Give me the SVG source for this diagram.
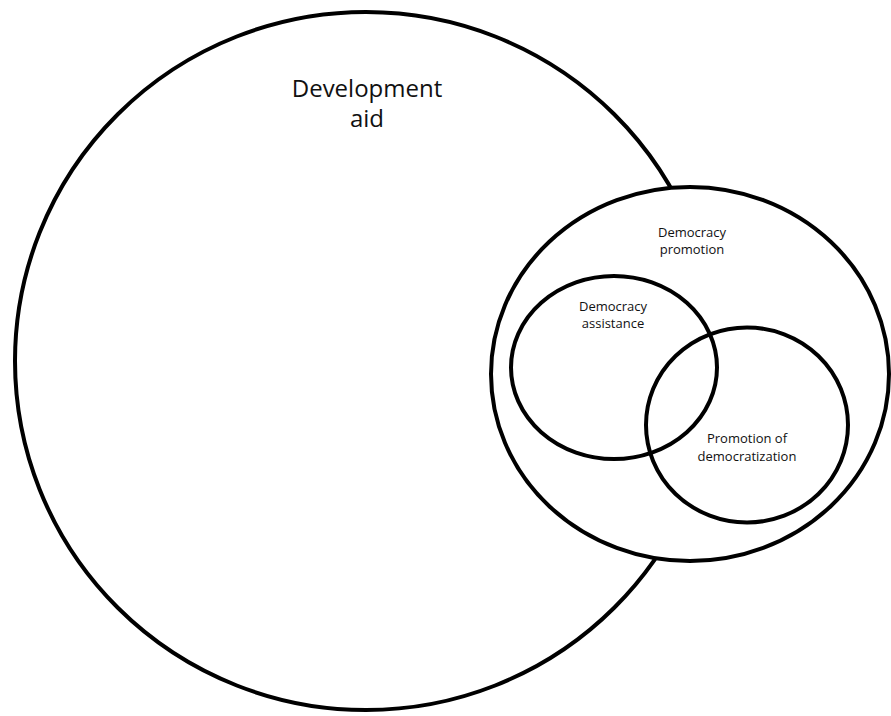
<svg xmlns="http://www.w3.org/2000/svg" width="891" height="716" viewBox="0 0 891 716">
  <style>
    .ring { fill: none; stroke: #000; stroke-width: 4; }
    .solid { fill: #fff; stroke: #000; stroke-width: 4; }
    .label { font-family: "Open Sans", "Noto Sans", "Liberation Sans", sans-serif; fill: #111; text-anchor: middle; }
    .big { font-size: 24px; }
    .small { font-size: 13px; }
  </style>
  <rect width="891" height="716" fill="#fff"/>

  <!-- outermost set -->
  <g id="development-aid">
    <ellipse class="solid" cx="366" cy="361" rx="351" ry="349"/>
    <text class="label big" x="367" y="97">Development</text>
    <text class="label big" x="367" y="127">aid</text>
  </g>

  <!-- subset drawn opaque so it masks the outer outline -->
  <g id="democracy-promotion">
    <ellipse class="solid" cx="690" cy="374" rx="199" ry="187"/>
    <text class="label small" x="692" y="237">Democracy</text>
    <text class="label small" x="692" y="254">promotion</text>
  </g>

  <g id="democracy-assistance">
    <ellipse class="ring" cx="614" cy="367.5" rx="103" ry="91.5"/>
    <text class="label small" x="613" y="311">Democracy</text>
    <text class="label small" x="613" y="328">assistance</text>
  </g>

  <g id="promotion-of-democratization">
    <ellipse class="ring" cx="747" cy="425" rx="101" ry="97.5"/>
    <text class="label small" x="747" y="443">Promotion of</text>
    <text class="label small" x="747" y="461">democratization</text>
  </g>
</svg>
